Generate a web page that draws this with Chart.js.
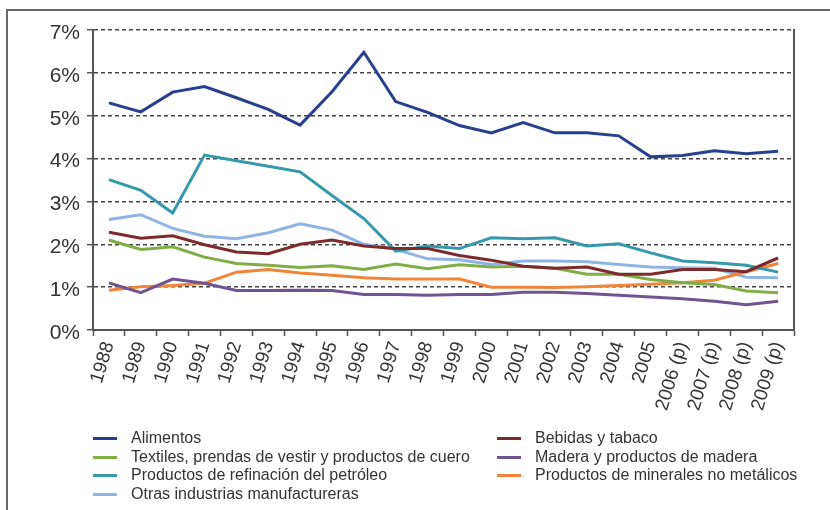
<!DOCTYPE html>
<html>
<head>
<meta charset="utf-8">
<script src="https://cdn.jsdelivr.net/npm/chart.js@4.4.0/dist/chart.umd.min.js"></script>
<style>
  html, body { margin: 0; padding: 0; background: #fff; }
  #wrap { position: relative; width: 830px; height: 510px; overflow: hidden; font-family: "Liberation Sans", Arial, Helvetica, sans-serif; }
  #frame { position: absolute; left: 6px; top: 9px; width: 900px; height: 600px; border-left: 2px solid #666; border-top: 2px solid #666; }
  #c { position: absolute; left: 0; top: 0; }
  .lg { position: absolute; font-size: 16px; color: #333; white-space: nowrap; line-height: 18px; }
  .lg span.sw { position: absolute; left: -38px; top: 8px; width: 24px; height: 3px; }
</style>
</head>
<body>
<div id="wrap">
  <div id="frame"></div>
  <canvas id="c" width="830" height="510"></canvas>
  <div id="legend"></div>
</div>
<script>
const years = ['1988','1989','1990','1991','1992','1993','1994','1995','1996','1997','1998','1999','2000','2001','2002','2003','2004','2005','2006 (p)','2007 (p)','2008 (p)','2009 (p)'];
const yTickValues = [0,1,2,3,4,5,6,7];

const alimentos  = [5.30,5.09,5.55,5.68,5.42,5.15,4.78,5.56,6.48,5.33,5.08,4.77,4.60,4.84,4.60,4.60,4.53,4.04,4.07,4.18,4.11,4.17];
const bebidas    = [2.28,2.14,2.20,1.99,1.82,1.78,2.00,2.10,1.96,1.90,1.90,1.74,1.63,1.49,1.44,1.47,1.30,1.30,1.41,1.41,1.36,1.68];
const textiles   = [2.10,1.88,1.94,1.70,1.55,1.51,1.46,1.50,1.41,1.54,1.43,1.52,1.47,1.49,1.44,1.30,1.30,1.18,1.10,1.06,0.91,0.87];
const madera     = [1.10,0.87,1.19,1.09,0.92,0.92,0.93,0.92,0.83,0.83,0.81,0.83,0.83,0.88,0.88,0.85,0.81,0.77,0.73,0.67,0.59,0.67];
const refinacion = [3.51,3.26,2.73,4.08,3.95,3.82,3.69,3.14,2.60,1.84,1.96,1.90,2.15,2.13,2.15,1.96,2.01,1.80,1.61,1.57,1.51,1.35];
const minerales  = [0.93,1.01,1.04,1.09,1.35,1.41,1.33,1.28,1.22,1.19,1.19,1.19,1.00,1.00,0.99,1.01,1.04,1.07,1.10,1.16,1.36,1.55];
const otras      = [2.58,2.69,2.37,2.19,2.13,2.27,2.48,2.33,2.00,1.88,1.66,1.64,1.53,1.61,1.61,1.59,1.53,1.47,1.45,1.44,1.23,1.22];

const seriesNames = ['Alimentos','Bebidas y tabaco','Textiles, prendas de vestir y productos de cuero','Madera y productos de madera','Productos de refinación del petróleo','Productos de minerales no metálicos','Otras industrias manufactureras'];
const seriesData = [alimentos, bebidas, textiles, madera, refinacion, minerales, otras];
const seriesColors = ['#263f8e','#7d2a2d','#80ad46','#6f5493','#3598ab','#f0853a','#8db4e2'];
const legendCol1 = [0,2,4,6];
const legendCol2 = [1,3,5];

const FONT = '"Liberation Sans", Arial, Helvetica, sans-serif';

const datasets = seriesNames.map((n,i) => ({
  label: n,
  data: seriesData[i],
  borderColor: seriesColors[i],
  backgroundColor: seriesColors[i],
  borderWidth: 3,
  pointRadius: 0,
  tension: 0,
  fill: false
}));

new Chart(document.getElementById('c'), {
  type: 'line',
  data: { labels: years, datasets },
  options: {
    responsive: false,
    animation: false,
    events: [],
    layout: { padding: { left: 0, top: 30, right: 36, bottom: 0 } },
    plugins: { legend: { display: false }, tooltip: { enabled: false } },
    scales: {
      x: {
        offset: true,
        grid: { display: true, drawOnChartArea: false, drawTicks: true, offset: true, tickLength: 6, tickColor: '#555', tickWidth: 1.5 },
        border: { display: true, color: '#555', width: 2 },
        ticks: { color: '#333', font: { family: FONT, size: 19 }, maxRotation: 73, minRotation: 73, padding: 3, autoSkip: false },
        afterFit(s) { s.height = 180; }
      },
      y: {
        min: 0, max: 7,
        afterBuildTicks(s) { s.ticks = yTickValues.map(v => ({ value: v })); },
        grid: { color: '#444', lineWidth: 1.4, drawTicks: true, tickLength: 6, tickColor: '#555', tickWidth: 1.5, tickBorderDash: [] },
        border: { display: true, color: '#555', width: 2, dash: [4, 3] },
        ticks: { color: '#333', font: { family: FONT, size: 21 }, padding: 7, labelOffset: 3, callback: v => v + '%' },
        afterFit(s) { s.width = 93; }
      },
      y2: {
        position: 'right',
        min: 0, max: 7,
        grid: { drawOnChartArea: false, drawTicks: false },
        border: { display: true, color: '#555', width: 2 },
        ticks: { display: false },
        afterFit(s) { s.width = 0; }
      }
    }
  }
});

const lg = document.getElementById('legend');
function addItem(idx, x, y) {
  const d = document.createElement('div');
  d.className = 'lg';
  d.style.left = x + 'px';
  d.style.top = y + 'px';
  const sw = document.createElement('span');
  sw.className = 'sw';
  sw.style.background = seriesColors[idx];
  d.appendChild(sw);
  d.appendChild(document.createTextNode(seriesNames[idx]));
  lg.appendChild(d);
}
legendCol1.forEach((idx, r) => addItem(idx, 131, 429 + r * 18.6));
legendCol2.forEach((idx, r) => addItem(idx, 535, 429 + r * 18.6));
</script>
</body>
</html>
